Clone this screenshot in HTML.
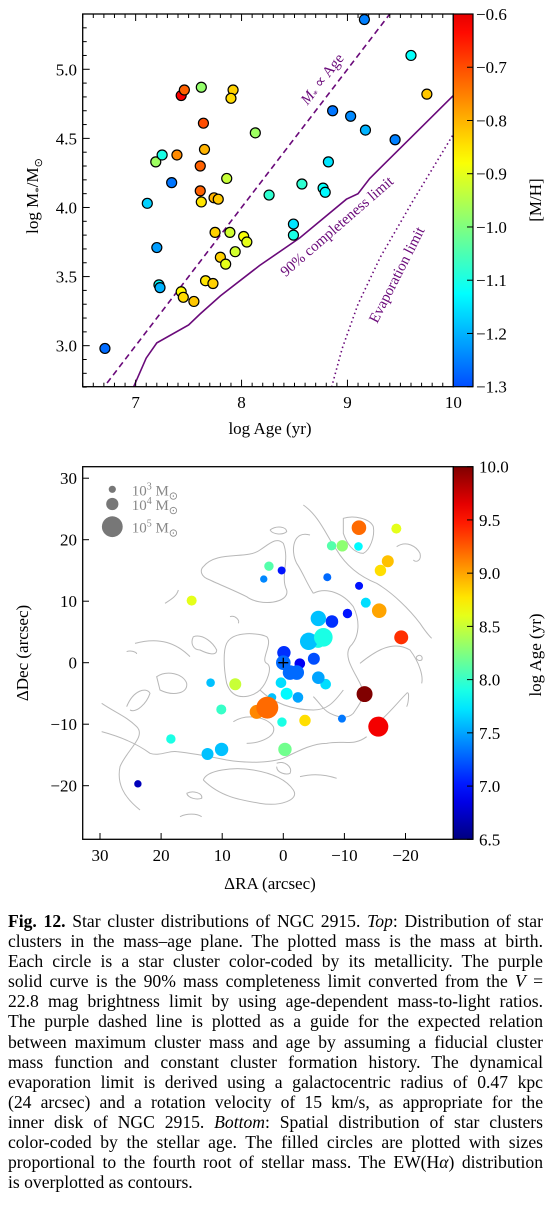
<!DOCTYPE html>
<html><head><meta charset="utf-8">
<style>
html,body{margin:0;padding:0;background:#fff;}
body{width:551px;height:1211px;position:relative;overflow:hidden;font-family:"Liberation Serif",serif;}
svg text{font-family:"Liberation Serif",serif;}
#caption{position:absolute;left:8px;top:911px;width:535px;font-size:17.6px;line-height:20.1px;color:#000;}
#caption span.l{display:block;text-align:justify;text-align-last:justify;white-space:nowrap;}
#caption span.last{display:block;text-align:left;}
</style></head>
<body>
<svg id="fig" width="551" height="900" viewBox="0 0 551 900" xmlns="http://www.w3.org/2000/svg" style="position:absolute;left:0;top:0">
<defs>
<clipPath id="clipTop"><rect x="82.7" y="14" width="370.6" height="372.7"/></clipPath>
<clipPath id="clipBot"><rect x="82.7" y="466.7" width="370.6" height="372.6"/></clipPath>
<linearGradient id="gradTop" x1="0" y1="1" x2="0" y2="0"></linearGradient>
<linearGradient id="gradBot" x1="0" y1="1" x2="0" y2="0"></linearGradient>
</defs>
<g id="top"></g>
<g id="bot"></g>
</svg>

<div id="caption">
<span class="l"><b>Fig. 12.</b> Star cluster distributions of NGC 2915. <i>Top</i>: Distribution of star</span>
<span class="l">clusters in the mass–age plane. The plotted mass is the mass at birth.</span>
<span class="l">Each circle is a star cluster color-coded by its metallicity. The purple</span>
<span class="l">solid curve is the 90% mass completeness limit converted from the <i>V</i> =</span>
<span class="l">22.8 mag brightness limit by using age-dependent mass-to-light ratios.</span>
<span class="l">The purple dashed line is plotted as a guide for the expected relation</span>
<span class="l">between maximum cluster mass and age by assuming a fiducial cluster</span>
<span class="l">mass function and constant cluster formation history. The dynamical</span>
<span class="l">evaporation limit is derived using a galactocentric radius of 0.47 kpc</span>
<span class="l">(24 arcsec) and a rotation velocity of 15 km/s, as appropriate for the</span>
<span class="l">inner disk of NGC 2915. <i>Bottom</i>: Spatial distribution of star clusters</span>
<span class="l">color-coded by the stellar age. The filled circles are plotted with sizes</span>
<span class="l">proportional to the fourth root of stellar mass. The EW(H<i>α</i>) distribution</span>
<span class="last">is overplotted as contours.</span>
</div>

<script>
// ---------- TOP PANEL DATA ----------
const topAges = [6.71,9.16,9.60,9.75,8.86,9.03,9.17,9.45,8.82,8.57,8.77,8.79,8.26,8.49,8.49,8.13,7.86,7.62,7.43,7.46,7.92,7.90,7.64,7.65,7.39,7.19,7.25,7.61,7.34,7.61,7.11,7.62,7.74,7.78,7.20,7.75,7.89,8.02,8.05,7.94,7.80,7.85,7.22,7.23,7.43,7.45,7.55,7.66,7.73];
const topMasses = [2.98,5.36,5.10,4.82,4.70,4.66,4.56,4.49,4.33,4.17,4.14,4.11,4.09,3.88,3.80,4.54,4.21,4.87,4.81,4.85,4.85,4.79,4.61,4.42,4.38,4.33,4.38,4.30,4.18,4.12,4.03,4.04,4.07,4.06,3.71,3.82,3.82,3.79,3.75,3.68,3.64,3.59,3.44,3.42,3.39,3.35,3.32,3.47,3.45];
const topMetal = [-1.27,-1.25,-1.12,-0.82,-1.26,-1.24,-1.20,-1.25,-1.15,-1.08,-1.12,-1.13,-1.08,-1.15,-1.10,-0.97,-0.93,-0.98,-0.62,-0.72,-0.83,-0.84,-0.70,-0.80,-0.76,-0.97,-1.10,-0.72,-1.26,-0.72,-1.17,-0.85,-0.80,-0.82,-1.22,-0.83,-0.92,-0.88,-0.90,-0.92,-0.83,-0.90,-1.12,-1.20,-0.87,-0.84,-0.82,-0.85,-0.83];
const complAges = [6.98,7.10,7.20,7.50,7.61,7.80,8.17,8.55,8.99,9.10,9.21,10.0];
const complMasses = [2.70,2.91,3.02,3.15,3.23,3.36,3.58,3.78,4.06,4.10,4.21,4.81];
const evapAges = [8.85,8.95,9.10,9.31,9.62,10.0];
const evapMasses = [2.70,2.98,3.30,3.64,4.05,4.53];
const dashOffset = 4.0; // M* ∝ Age : logM = logAge - 4.0
const topXTicks = [7,8,9,10];
const topYTicks = [3.0,3.5,4.0,4.5,5.0];
const metalTicks = [-1.3,-1.2,-1.1,-1.0,-0.9,-0.8,-0.7,-0.6];

// ---------- BOTTOM PANEL DATA ----------
const botRA =  [-12.38,-18.5,-7.9,-9.65,-12.3,-17.1,-15.9,2.35,0.27,3.2,-7.2,-12.4,-13.5,-15.7,15.0,-10.5,-5.73,-7.96,-4.15,-6.55,-5.7,-19.3,-0.1,0.0,-5.0,-2.7,-1.1,-2.2,-5.73,-6.93,11.9,7.86,0.38,-0.55,1.85,-2.4,-13.3,10.15,4.36,2.62,-3.55,0.22,-9.6,-15.55,18.4,10.1,12.4,-0.27,23.8];
const botDec = [21.95,21.8,19.0,19.0,18.9,16.5,15.0,15.7,15.0,13.6,13.9,12.5,9.76,8.46,10.1,8.0,7.2,6.7,3.47,4.12,3.6,4.12,1.63,0.0,0.65,-0.16,-1.6,-1.6,-2.44,-3.5,-3.25,-3.5,-3.25,-5.04,-5.64,-5.64,-5.1,-7.6,-8.0,-7.3,-9.4,-9.65,-9.1,-10.4,-12.4,-14.1,-14.85,-14.1,-19.7];
const botAge = [9.2,8.6,8.1,8.3,7.8,8.9,8.8,8.1,7.0,7.4,7.3,7.0,7.7,9.0,8.6,7.0,7.6,7.1,7.6,7.9,7.9,9.4,7.1,7.3,7.2,6.9,7.3,7.3,7.5,7.7,7.6,8.5,7.7,7.8,7.6,7.5,10.0,8.0,9.1,9.2,8.8,7.9,7.35,9.6,7.9,7.6,7.6,8.2,6.7];
const botLogM = [4.33,3.62,3.5,3.87,3.33,3.96,3.87,3.5,3.2,3.05,3.2,3.2,3.62,4.33,3.62,3.5,4.43,4.05,4.66,4.79,4.33,4.25,4.17,4.33,3.96,3.73,4.33,4.33,4.05,3.73,3.33,3.96,3.73,3.96,3.33,3.73,4.5,3.62,4.25,5.1,3.87,3.5,3.2,4.93,3.5,4.17,3.96,4.17,3.05];
const botXTicks = [30,20,10,0,-10,-20];
const botYTicks = [30,20,10,0,-10,-20];
const ageTicks = [6.5,7.0,7.5,8.0,8.5,9.0,9.5,10.0];
const legendLogM = [3,4,5];

const NS = "http://www.w3.org/2000/svg";
function mk(tag, attrs, parent){const e=document.createElementNS(NS,tag);for(const k in attrs)e.setAttribute(k,attrs[k]);if(parent)parent.appendChild(e);return e;}
function jet(t){t=Math.max(0,Math.min(1,t));const c=v=>Math.round(255*Math.max(0,Math.min(1,v)));
 return `rgb(${c(1.5-Math.abs(4*t-3))},${c(1.5-Math.abs(4*t-2))},${c(1.5-Math.abs(4*t-1))})`;}
const metalT = v => 0.2 + (v+1.3)/0.7*0.7;
const ageT = v => (v-6.5)/3.5;

// scales
const tx = a => 82.7 + (a-6.5)*105.9;
const ty = m => 14 + (5.4-m)*138.2;
const bx = r => 283.3 - r*6.11;
const by = d => 662.7 - d*6.15;
const rad = lm => 3.6*Math.pow(1.7, lm-3);

// gradients
const gT=document.getElementById('gradTop'), gB=document.getElementById('gradBot');
for(let i=0;i<=20;i++){const f=i/20;
 mk('stop',{offset:f,'stop-color':jet(0.2+f*0.7)},gT);
 mk('stop',{offset:f,'stop-color':jet(f)},gB);}

// ================= TOP =================
const T=document.getElementById('top');
const ptsG=mk('g',{'clip-path':'url(#clipTop)'},T);


let d=complAges.map((a,i)=>(i?'L':'M')+tx(a).toFixed(1)+','+ty(complMasses[i]).toFixed(1)).join(' ');
const cl=mk('path',{d:d,fill:'none',stroke:'#6a0a7a','stroke-width':1.6},ptsG);


const dl=mk('line',{x1:tx(6.5),y1:ty(6.5-dashOffset),x2:tx(10),y2:ty(10-dashOffset),stroke:'#6a0a7a','stroke-width':1.6,'stroke-dasharray':'6,4'},ptsG);


d=evapAges.map((a,i)=>(i?'L':'M')+tx(a).toFixed(1)+','+ty(evapMasses[i]).toFixed(1)).join(' ');
const el=mk('path',{d:d,fill:'none',stroke:'#6a0a7a','stroke-width':1.6,'stroke-dasharray':'1.5,3'},ptsG);


topAges.forEach((a,i)=>{
 const c=mk('circle',{cx:tx(a),cy:ty(topMasses[i]),r:5,fill:jet(metalT(topMetal[i])),stroke:'#000','stroke-width':1.2},ptsG);
 
 
});
function rotText(parent,x,y,ang,txt,name,size){const t=mk('text',{x:x,y:y,transform:`rotate(${ang} ${x} ${y})`,'text-anchor':'middle','font-size':size||14,fill:'#6a0a7a'},parent);t.innerHTML=txt;
 
 return t;}
rotText(T,326,82,-52,'<tspan font-style="italic">M</tspan><tspan font-size="10" dy="3">*</tspan><tspan dy="-3"> ∝ Age</tspan>','mass-age-label',15);
rotText(T,340,230,-41,'90% completeness limit','completeness-label',15);
rotText(T,401,277,-63,'Evaporation limit','evaporation-label',15);
const fr=mk('rect',{x:82.7,y:14,width:370.6,height:372.7,fill:'none',stroke:'#000','stroke-width':1.3},T);


for(let v=6.5;v<=10.001;v+=0.1){const x=tx(v);const maj=Math.abs(v-Math.round(v))<1e-6;
 mk('line',{x1:x,y1:386.7,x2:x,y2:386.7-(maj?7:4),stroke:'#000','stroke-width':1},T);
 mk('line',{x1:x,y1:14,x2:x,y2:14+(maj?7:4),stroke:'#000','stroke-width':1},T);}
topXTicks.forEach(v=>{const t=mk('text',{x:tx(v),y:408,'text-anchor':'middle','font-size':17},T);t.textContent=v;
 
 });
for(let v=2.7;v<=5.401;v+=0.1){const y=ty(v);const maj=Math.abs(v*2-Math.round(v*2))<1e-6;
 mk('line',{x1:82.7,y1:y,x2:82.7+(maj?7:4),y2:y,stroke:'#000','stroke-width':1},T);}
topYTicks.forEach(v=>{const t=mk('text',{x:77,y:ty(v)+6,'text-anchor':'end','font-size':17},T);t.textContent=v.toFixed(1);
 
 });
let t=mk('text',{x:270,y:434,'text-anchor':'middle','font-size':17},T);t.textContent='log Age (yr)';


t=mk('text',{x:38,y:196,'text-anchor':'middle','font-size':17,transform:'rotate(-90 38 196)'},T);
t.innerHTML='log M<tspan font-size="11" dy="4">*</tspan><tspan dy="-4">/M</tspan><tspan font-size="11" dy="4">⊙</tspan>';


const cb=mk('rect',{x:453.3,y:14,width:19.7,height:372.7,fill:'url(#gradTop)',stroke:'#000','stroke-width':1.2},T);


metalTicks.forEach(v=>{const y=386.7-(v+1.3)/0.7*372.7;
 mk('line',{x1:473,y1:y,x2:467,y2:y,stroke:'#000','stroke-width':1},T);
 const tt=mk('text',{x:476,y:y+6,'font-size':17},T);tt.textContent=(v<0?'−':'')+Math.abs(v).toFixed(1);
 
 });
t=mk('text',{x:541,y:200,'text-anchor':'middle','font-size':17,transform:'rotate(-90 541 200)'},T);t.textContent='[M/H]';



// ================= BOTTOM =================
const B=document.getElementById('bot');
const bg=mk('g',{'clip-path':'url(#clipBot)'},B);


const contours=[
"M730,165 C780,200 800,260 830,300 C860,350 900,380 950,400 C1000,430 1050,480 1080,520 C1100,550 1110,560 1115,565",
"M850,205 C880,195 930,205 940,230 C945,260 930,300 910,310 C880,310 860,280 850,250 Z",
"M430,350 C470,300 560,330 600,300 C630,280 650,260 670,280 C690,330 660,380 680,420 C690,460 600,470 560,440 C520,420 470,400 450,390 C420,380 420,360 430,350",
"M315,460 C330,450 350,440 355,420",
"M500,580 C520,540 600,550 620,560 C640,580 600,630 620,640 C640,650 620,700 600,720 C580,740 520,760 500,700 C490,650 490,600 500,580",
"M125,760 C170,790 200,800 230,830 C260,860 200,900 180,950 C170,1000 190,1040 240,1080",
"M125,845 C180,860 230,880 270,910 C300,920 330,900 350,905 C400,910 450,920 500,930 C560,940 640,940 680,920 C720,900 760,880 800,880 C850,870 880,890 920,860",
"M430,990 C440,960 520,950 580,960 C640,970 680,990 700,1020 C720,1050 660,1070 600,1060 C540,1050 480,1040 430,990",
"M360,1100 C380,1090 410,1090 425,1100",
"M225,580 C300,560 350,580 390,620",
"M520,815 C560,790 620,800 640,830 C650,860 600,880 560,880",
"M760,430 C800,410 850,430 880,470 C900,510 900,560 870,590 C850,620 880,660 900,700 C920,740 900,760 880,790 C860,810 830,800 810,790 C790,780 780,760 760,740",
"M900,640 C950,600 1000,570 1050,600 C1080,640 1090,680 1085,700",
"M750,255 C700,240 690,300 710,340 C730,370 740,400 760,430",
"M940,830 C980,800 1010,760 1040,730 C1050,720 1045,760 1040,770",
"M1010,290 C1040,270 1070,290 1080,310 C1085,330 1070,340 1060,330",
"M400,560 C430,550 460,580 470,600 C470,620 440,610 420,600 C400,600 390,580 400,560",
"M290,680 C320,660 370,670 380,700 C385,730 340,740 300,720 Z",
"M200,770 C220,720 260,710 270,730 C260,760 230,790 210,780",
"M650,940 C670,930 700,950 690,970 C680,975 650,970 650,950",
"M380,1030 C400,1020 430,1030 425,1045 C410,1050 385,1045 380,1030",
"M720,980 C760,970 800,975 830,985",
"M1070,620 C1080,610 1090,620 1085,630 C1075,635 1065,625 1070,620",
"M630,240 C650,225 680,230 680,245 C670,255 640,255 630,240",
"M510,500 C525,495 540,510 535,520",
"M200,605 C210,600 230,605 230,612",
"M600,720 C640,760 700,780 760,780 C800,780 820,760 850,720"
];
const cg=mk('g',{transform:'translate(60,450) scale(0.33333)',fill:'none',stroke:'#b8b8b8','stroke-width':3},bg);


contours.forEach(p=>mk('path',{d:p},cg));
const idx=botRA.map((_,i)=>i).sort((a,b)=>botLogM[a]-botLogM[b]);
idx.forEach(i=>{const c=mk('circle',{cx:bx(botRA[i]),cy:by(botDec[i]),r:rad(botLogM[i]),fill:jet(ageT(botAge[i]))},bg);
 
 });
mk('path',{d:`M${bx(0)-5},${by(0)} h10 M${bx(0)},${by(0)-5} v10`,stroke:'#000','stroke-width':1.3},bg);
legendLogM.forEach((lm,i)=>{const ys=[489.3,504,526.7][i];
 const c=mk('circle',{cx:112.3,cy:ys,r:rad(lm),fill:'#777'},B);
 
 
 const tt=mk('text',{x:131.7,y:ys+6,'font-size':15,fill:'#888'},B);
 tt.innerHTML=`10<tspan font-size="10" dy="-6">${lm}</tspan><tspan dy="6"> M</tspan><tspan font-size="11" dy="4">⊙</tspan>`;
 
 });
const fr2=mk('rect',{x:82.7,y:466.7,width:370.6,height:372.6,fill:'none',stroke:'#000','stroke-width':1.3},B);


botXTicks.forEach(v=>{const x=bx(v);mk('line',{x1:x,y1:839.3,x2:x,y2:833,stroke:'#000','stroke-width':1},B);
 const tt=mk('text',{x:x,y:861,'text-anchor':'middle','font-size':17},B);tt.textContent=(v<0?'−':'')+Math.abs(v);
 
 });
botYTicks.forEach(v=>{const y=by(v);mk('line',{x1:82.7,y1:y,x2:89,y2:y,stroke:'#000','stroke-width':1},B);
 const tt=mk('text',{x:77,y:y+6,'text-anchor':'end','font-size':17},B);tt.textContent=(v<0?'−':'')+Math.abs(v);
 
 });
t=mk('text',{x:270,y:889,'text-anchor':'middle','font-size':17},B);t.textContent='ΔRA (arcsec)';


t=mk('text',{x:28,y:653,'text-anchor':'middle','font-size':17,transform:'rotate(-90 28 653)'},B);t.textContent='ΔDec (arcsec)';


const cb2=mk('rect',{x:453.3,y:466.7,width:19.7,height:372.6,fill:'url(#gradBot)',stroke:'#000','stroke-width':1.2},B);


ageTicks.forEach(v=>{const y=839.3-(v-6.5)/3.5*372.6;
 mk('line',{x1:473,y1:y,x2:467,y2:y,stroke:'#000','stroke-width':1},B);
 const tt=mk('text',{x:479,y:y+6,'font-size':17},B);tt.textContent=v.toFixed(1);
 
 });
t=mk('text',{x:541,y:655,'text-anchor':'middle','font-size':17,transform:'rotate(-90 541 655)'},B);t.textContent='log Age (yr)';


</script>
</body></html>
